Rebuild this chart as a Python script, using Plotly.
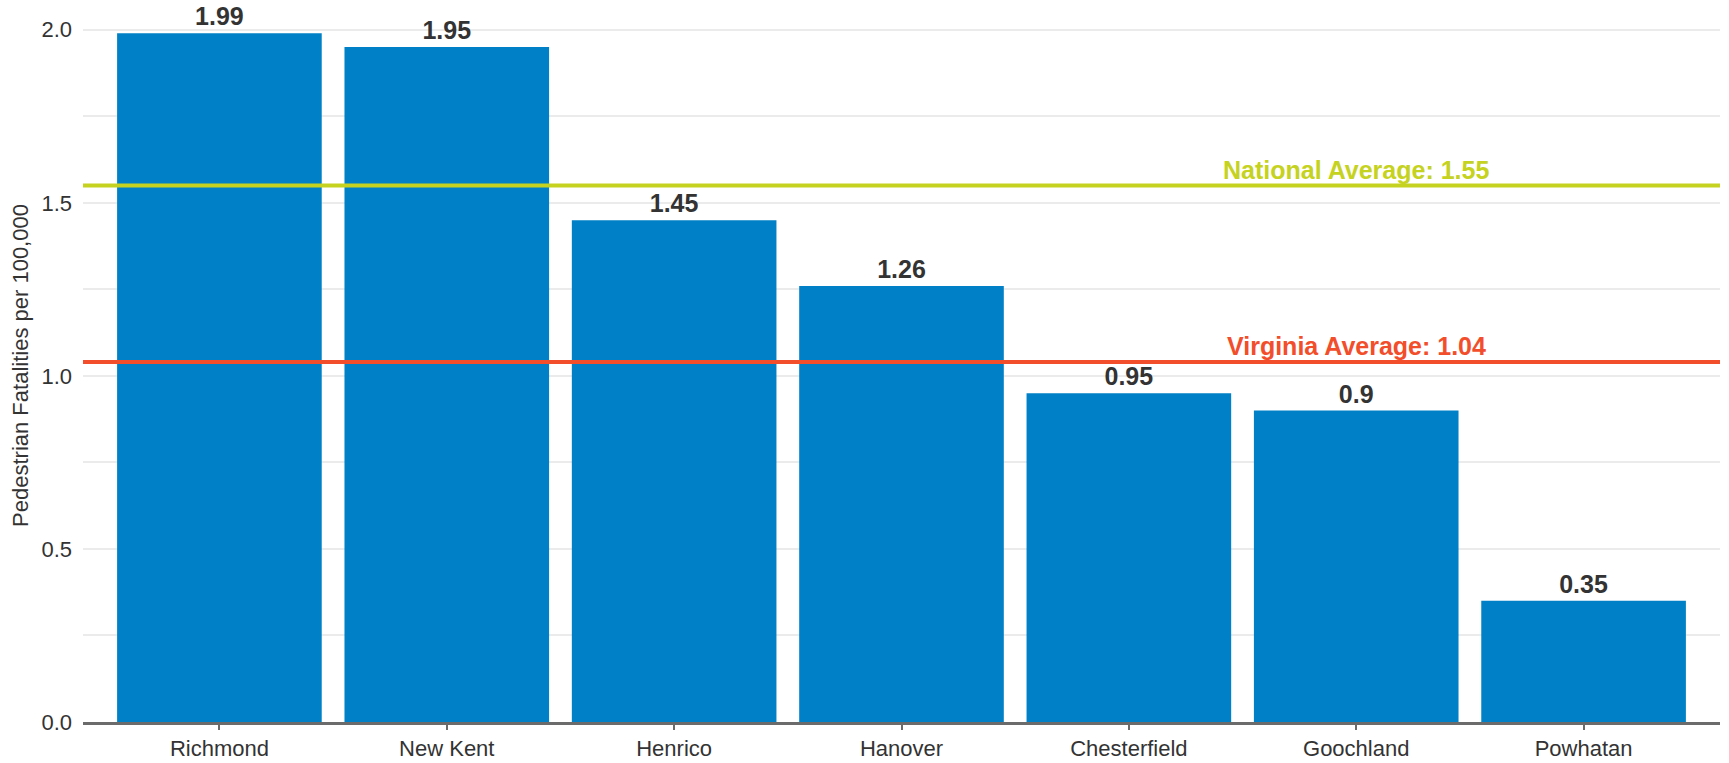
import plotly.graph_objects as go

counties = ["Richmond", "New Kent", "Henrico", "Hanover", "Chesterfield", "Goochland", "Powhatan"]
rates = [1.99, 1.95, 1.45, 1.26, 0.95, 0.9, 0.35]
bar_labels = ["1.99", "1.95", "1.45", "1.26", "0.95", "0.9", "0.35"]

national_avg = 1.55
virginia_avg = 1.04
national_label = "National Average: 1.55"
virginia_label = "Virginia Average: 1.04"
ref_label_x = 5

y_ticks = [0.0, 0.5, 1.0, 1.5, 2.0]

FONT = "Liberation Sans, Arial, sans-serif"
BLUE = "#0080C6"
GREEN = "#C5D220"
RED = "#F24E2C"

fig = go.Figure()
fig.add_trace(go.Bar(
    x=list(range(len(counties))), y=rates,
    marker=dict(color=BLUE, line=dict(width=0)),
    text=bar_labels, textposition="outside", cliponaxis=False,
    textfont=dict(family=FONT, size=25, color="#333333", weight="bold"),
    width=0.9,
))

for val, col, lab in [(national_avg, GREEN, national_label), (virginia_avg, RED, virginia_label)]:
    fig.add_shape(type="line", xref="paper", yref="y", x0=0, x1=1, y0=val, y1=val,
                  line=dict(color=col, width=4), layer="above")
    fig.add_annotation(x=ref_label_x, y=val, xref="x", yref="y", text=lab, showarrow=False,
                       yanchor="bottom", xanchor="center", yshift=0,
                       font=dict(family=FONT, size=25, color=col, weight="bold"))

fig.update_layout(
    width=1729, height=763,
    margin=dict(l=83, r=9, t=9, b=41, autoexpand=False),
    plot_bgcolor="white", paper_bgcolor="white",
    showlegend=False,
    font=dict(family=FONT, color="#333333"),
    xaxis=dict(
        range=[-0.6, 6.6], automargin=False,
        tickmode="array", tickvals=list(range(len(counties))), ticktext=counties,
        tickfont=dict(size=22, color="#333333"),
        showgrid=False, zeroline=False,
        showline=True, linecolor="#6b6b6b", linewidth=3,
        ticks="outside", ticklen=5, tickwidth=1.5, tickcolor="#6b6b6b",
    ),
    yaxis=dict(
        range=[0, 2.06], automargin=False,
        tickmode="array", tickvals=y_ticks, tickformat=".1f",
        tickfont=dict(size=22, color="#333333"),
        showgrid=True, gridcolor="#EBEBEB", gridwidth=1.5,
        minor=dict(dtick=0.25, tick0=0, showgrid=True, gridcolor="#EBEBEB", gridwidth=1.5),
        zeroline=False, showline=False, ticks="",
        ticklabelstandoff=10,
        title=dict(text="Pedestrian Fatalities per 100,000", font=dict(size=22, color="#333333"), standoff=6),
    ),
)

fig.write_html("out.html")
